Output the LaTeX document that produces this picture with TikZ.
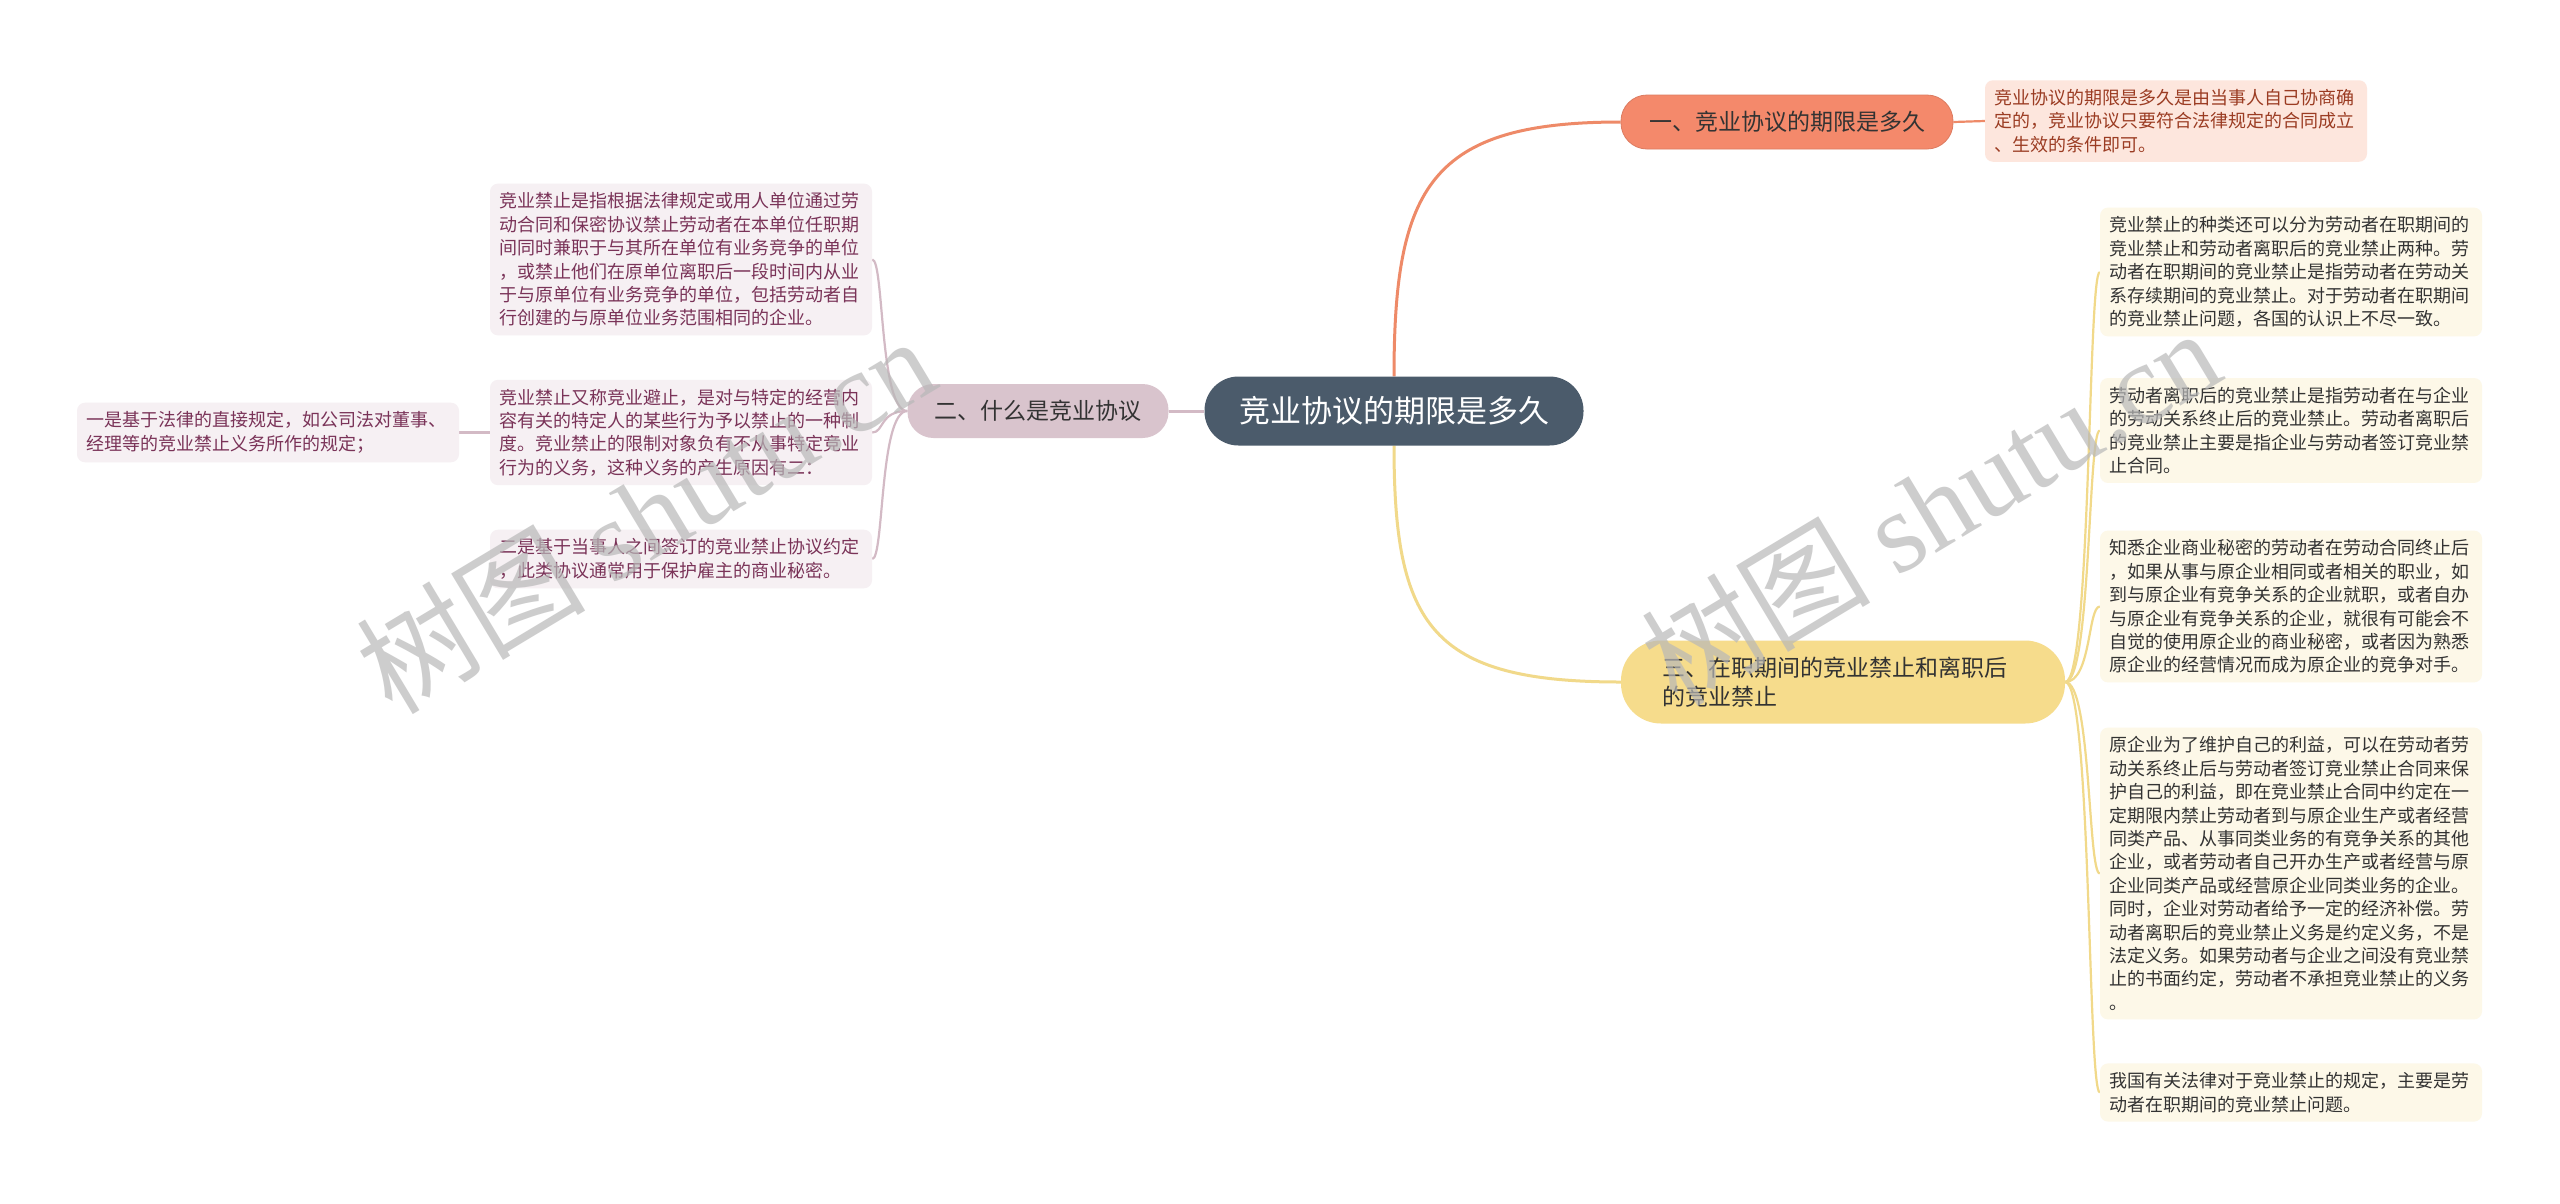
\documentclass[tikz,border=0pt]{standalone}
\usepackage{fontspec}
\setmainfont{Noto Sans CJK SC}
\newfontfamily\wmserif{Liberation Serif}
\usetikzlibrary{backgrounds}
\definecolor{cdark}{HTML}{4B5B6B}
\definecolor{corange}{HTML}{F4896B}
\definecolor{corangeline}{HTML}{EE8A68}
\definecolor{corangeleaf}{HTML}{FDE6DD}
\definecolor{corangetext}{HTML}{9B3C23}
\definecolor{cpink}{HTML}{D9C4CD}
\definecolor{cpinkline}{HTML}{D3BAC5}
\definecolor{cpinkleaf}{HTML}{F6F0F3}
\definecolor{cpinktext}{HTML}{7A3358}
\definecolor{cyellow}{HTML}{F6DC8C}
\definecolor{cyellowline}{HTML}{F1D98A}
\definecolor{cyellowleaf}{HTML}{FDF8E8}
\definecolor{ctext}{HTML}{333333}
\begin{document}
\begin{tikzpicture}[x=1pt,y=-1pt,
  leafbox/.style={rounded corners=8pt, inner xsep=9pt, inner ysep=9pt,
    text width=364pt, align=left, anchor=center,
    font=\fontsize{18}{23.4}\selectfont},
  mainbox/.style={rounded corners=26pt, minimum height=54pt, inner sep=0pt,
    text=ctext, font=\fontsize{23}{29}\selectfont, anchor=center},
  conn/.style={line width=2.2pt},
  wmark/.style={rotate=31, text=black!28, opacity=0.7, font=\fontsize{115}{115}\selectfont}]
\useasboundingbox (0,0) rectangle (2560,1203);

% main nodes
\node[rounded corners=34pt, fill=cdark, text=white, minimum width=379pt,
  minimum height=69pt, inner sep=0pt, font=\fontsize{31}{36}\selectfont]
  (c) at (1394,411) {竞业协议的期限是多久};
\node[mainbox, fill=corange, draw=corange!90!black, line width=0.8pt, minimum width=332pt]
  (n1) at (1787,122) {一、竞业协议的期限是多久};
\node[mainbox, fill=cpink, minimum width=261pt]
  (n2) at (1038,411) {二、什么是竞业协议};
\node[mainbox, fill=cyellow, rounded corners=40pt, minimum width=444pt, minimum height=83pt,
  text width=362pt, align=left]
  (n3) at (1843,682) {三、在职期间的竞业禁止和离职后\\的竞业禁止};

% leaf of n1
\node[leafbox, fill=corangeleaf, text=corangetext] (l1) at (2176,121)
 {竞业协议的期限是多久是由当事人自己协商确\\定的，竞业协议只要符合法律规定的合同成立\\、生效的条件即可。};

% leaves of n2
\node[leafbox, fill=cpinkleaf, text=cpinktext] (a1) at (681,259.5)
 {竞业禁止是指根据法律规定或用人单位通过劳\\动合同和保密协议禁止劳动者在本单位任职期\\间同时兼职于与其所在单位有业务竞争的单位\\，或禁止他们在原单位离职后一段时间内从业\\于与原单位有业务竞争的单位，包括劳动者自\\行创建的与原单位业务范围相同的企业。};
\node[leafbox, fill=cpinkleaf, text=cpinktext] (a2) at (681,432.5)
 {竞业禁止又称竞业避止，是对与特定的经营内\\容有关的特定人的某些行为予以禁止的一种制\\度。竞业禁止的限制对象负有不从事特定竞业\\行为的义务，这种义务的产生原因有二：};
\node[leafbox, fill=cpinkleaf, text=cpinktext] (a3) at (681,559)
 {二是基于当事人之间签订的竞业禁止协议约定\\，此类协议通常用于保护雇主的商业秘密。};
\node[leafbox, fill=cpinkleaf, text=cpinktext] (a21) at (268,432.5)
 {一是基于法律的直接规定，如公司法对董事、\\经理等的竞业禁止义务所作的规定；};

% leaves of n3
\node[leafbox, fill=cyellowleaf, text=ctext] (b1) at (2291,272)
 {竞业禁止的种类还可以分为劳动者在职期间的\\竞业禁止和劳动者离职后的竞业禁止两种。劳\\动者在职期间的竞业禁止是指劳动者在劳动关\\系存续期间的竞业禁止。对于劳动者在职期间\\的竞业禁止问题，各国的认识上不尽一致。};
\node[leafbox, fill=cyellowleaf, text=ctext] (b2) at (2291,430.5)
 {劳动者离职后的竞业禁止是指劳动者在与企业\\的劳动关系终止后的竞业禁止。劳动者离职后\\的竞业禁止主要是指企业与劳动者签订竞业禁\\止合同。};
\node[leafbox, fill=cyellowleaf, text=ctext] (b3) at (2291,606.5)
 {知悉企业商业秘密的劳动者在劳动合同终止后\\，如果从事与原企业相同或者相关的职业，如\\到与原企业有竞争关系的企业就职，或者自办\\与原企业有竞争关系的企业，就很有可能会不\\自觉的使用原企业的商业秘密，或者因为熟悉\\原企业的经营情况而成为原企业的竞争对手。};
\node[leafbox, fill=cyellowleaf, text=ctext] (b4) at (2291,873.5)
 {原企业为了维护自己的利益，可以在劳动者劳\\动关系终止后与劳动者签订竞业禁止合同来保\\护自己的利益，即在竞业禁止合同中约定在一\\定期限内禁止劳动者到与原企业生产或者经营\\同类产品、从事同类业务的有竞争关系的其他\\企业，或者劳动者自己开办生产或者经营与原\\企业同类产品或经营原企业同类业务的企业。\\同时，企业对劳动者给予一定的经济补偿。劳\\动者离职后的竞业禁止义务是约定义务，不是\\法定义务。如果劳动者与企业之间没有竞业禁\\止的书面约定，劳动者不承担竞业禁止的义务\\。};
\node[leafbox, fill=cyellowleaf, text=ctext] (b5) at (2291,1092.5)
 {我国有关法律对于竞业禁止的规定，主要是劳\\动者在职期间的竞业禁止问题。};

% connectors (behind the nodes)
\begin{scope}[on background layer]
\fill[white] (0,0) rectangle (2560,1203);
\draw[conn, corangeline, line width=3pt] (c.north) .. controls +(0,-190) and +(-190,0) .. (n1.west);
\draw[conn, cyellowline, line width=3pt] (c.south) .. controls +(0,180) and +(-190,0) .. (n3.west);
\draw[conn, cpinkline, line width=3pt] (c.west) -- (n2.east);
\draw[conn, corangeline] (n1.east) -- (l1.west);
\foreach \t in {a1,a2,a3}
  \draw[conn, cpinkline] (n2.west) .. controls +(-28,0) and +(12,0) .. (\t.east);
\draw[conn, cpinkline] (a2.west) -- (a21.east);
\foreach \t in {b1,b2,b3,b4,b5}
  \draw[conn, cyellowline] (n3.east) .. controls +(26,0) and +(-12,0) .. (\t.west);
\end{scope}

% watermarks
\node[wmark] (wm1) at (645,514) {树图 {\wmserif shutu.cn}};
\node[wmark] (wm2) at (1930,506) {树图 {\wmserif shutu.cn}};
\end{tikzpicture}
\end{document}
